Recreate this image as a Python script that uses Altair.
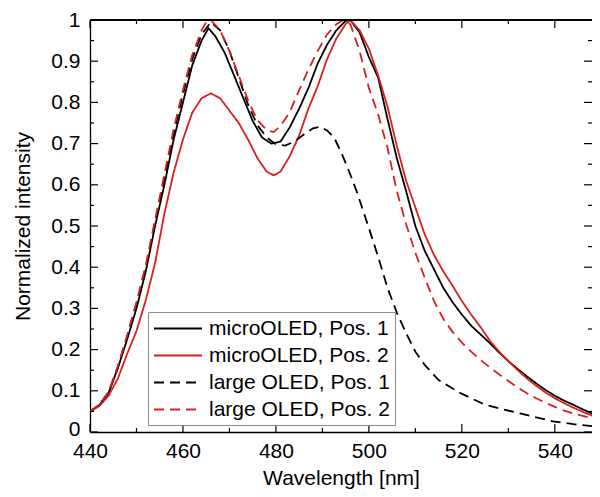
import altair as alt
import pandas as pd

# ---- data ----
series_names = ["microOLED, Pos. 1", "microOLED, Pos. 2", "large OLED, Pos. 1", "large OLED, Pos. 2"]

wl_micro1 = [440, 442, 444, 446, 448, 450, 452, 454, 456, 458, 460, 462, 464, 465.5, 467, 469, 471, 473,
             475, 477, 479, 481, 483, 485, 487, 489, 491, 493, 495, 496, 498, 500, 502, 504, 506, 508,
             510, 512, 514, 516, 518, 520, 522, 524, 526, 528, 530, 532, 534, 536, 538, 540, 542, 544,
             546, 548, 549.7]
val_micro1 = [0.05, 0.065, 0.095, 0.155, 0.225, 0.30, 0.39, 0.50, 0.60, 0.71, 0.80, 0.89, 0.95, 0.98,
              0.96, 0.92, 0.865, 0.81, 0.755, 0.715, 0.70, 0.705, 0.74, 0.785, 0.835, 0.895, 0.94, 0.975,
              0.998, 1.0, 0.97, 0.91, 0.86, 0.76, 0.665, 0.585, 0.50, 0.44, 0.395, 0.35, 0.315, 0.285,
              0.258, 0.237, 0.216, 0.193, 0.172, 0.153, 0.135, 0.118, 0.102, 0.088, 0.076, 0.066, 0.055,
              0.045, 0.038]

wl_micro2 = [440, 442, 444, 446, 448, 450, 452, 454, 456, 458, 460, 462, 464, 466, 468, 470, 472, 474,
             476, 478, 479.5, 481, 483, 485, 487, 489, 491, 493, 495, 496, 498, 500, 502, 504, 506, 508,
             510, 512, 514, 516, 518, 520, 522, 524, 526, 528, 530, 532, 534, 536, 538, 540, 542, 544,
             546, 548, 549.7]
val_micro2 = [0.05, 0.063, 0.088, 0.13, 0.19, 0.245, 0.32, 0.41, 0.53, 0.63, 0.71, 0.775, 0.81, 0.822,
              0.81, 0.78, 0.75, 0.71, 0.665, 0.632, 0.623, 0.632, 0.67, 0.72, 0.785, 0.84, 0.905, 0.955,
              0.99, 1.0, 0.975, 0.93, 0.865, 0.79, 0.695, 0.61, 0.545, 0.48, 0.43, 0.39, 0.355, 0.318,
              0.285, 0.255, 0.222, 0.195, 0.172, 0.15, 0.13, 0.112, 0.096, 0.082, 0.07, 0.059, 0.049,
              0.04, 0.033]

wl_large1 = [440, 442, 444, 446, 448, 450, 452, 454, 456, 458, 460, 462, 464, 466, 468, 470, 472, 474,
             476, 478, 480, 482, 484, 486, 488, 489.5, 491, 492.5, 494, 496, 497.5, 500, 502, 504, 506,
             508, 510, 512, 515, 519.6, 525, 532.5, 539.6, 544, 549.7]
val_large1 = [0.05, 0.066, 0.096, 0.158, 0.232, 0.312, 0.40, 0.51, 0.615, 0.725, 0.82, 0.905, 0.965,
              0.995, 0.975, 0.925, 0.86, 0.795, 0.745, 0.715, 0.698, 0.695, 0.705, 0.722, 0.737, 0.741,
              0.732, 0.715, 0.68, 0.625, 0.58, 0.495, 0.425, 0.35, 0.29, 0.24, 0.195, 0.163, 0.126,
              0.095, 0.066, 0.045, 0.026, 0.019, 0.012]

wl_large2 = [440, 442, 444, 446, 448, 450, 452, 454, 456, 458, 460, 462, 464, 465, 466, 468, 470, 472,
             474, 476, 478, 479.5, 481, 483, 485, 487, 489, 491, 493, 494.5, 496, 498, 500, 502, 504,
             506, 508, 510, 512, 514, 516, 518, 520, 522, 524, 526, 528, 530, 532, 534, 536, 538, 540,
             542, 544, 546, 548, 549.7]
val_large2 = [0.05, 0.066, 0.097, 0.16, 0.235, 0.315, 0.405, 0.515, 0.625, 0.735, 0.83, 0.915, 0.975,
              0.995, 1.0, 0.975, 0.925, 0.865, 0.805, 0.757, 0.733, 0.728, 0.743, 0.777, 0.83, 0.88,
              0.925, 0.965, 0.99, 1.0, 0.99, 0.925, 0.835, 0.77, 0.69, 0.585, 0.505, 0.435, 0.375,
              0.318, 0.275, 0.243, 0.217, 0.195, 0.175, 0.157, 0.14, 0.124, 0.108, 0.094, 0.082, 0.071,
              0.061, 0.052, 0.045, 0.039, 0.034, 0.03]

x_major_ticks = [440, 460, 480, 500, 520, 540]
x_minor_ticks = [450, 470, 490, 510, 530]
y_major_ticks = [0, 0.1, 0.2, 0.3, 0.4, 0.5, 0.6, 0.7, 0.8, 0.9, 1]
y_minor_ticks = [0.05, 0.15, 0.25, 0.35, 0.45, 0.55, 0.65, 0.75, 0.85, 0.95]

line_colors = ["#000000", "#d81f1f", "#000000", "#d81f1f"]
line_dashes = [[1, 0], [1, 0], [10, 6], [10, 6]]

# ---- build table ----
rows = []
for name, wls, vals in zip(series_names,
                           [wl_micro1, wl_micro2, wl_large1, wl_large2],
                           [val_micro1, val_micro2, val_large1, val_large2]):
    for i, (w, v) in enumerate(zip(wls, vals)):
        rows.append({"series": name, "wl": w, "val": v, "idx": i})
df = pd.DataFrame(rows)

W, H = 502, 412
FONT = "Liberation Sans"
FS = 21
xscale = alt.Scale(domain=[440, 548], nice=False, zero=False)
yscale = alt.Scale(domain=[0, 1], nice=False, zero=False)

x_axis = alt.Axis(values=x_major_ticks, title="Wavelength [nm]", ticks=False, grid=False,
                  labelPadding=8, titlePadding=6, labelFlush=False)
y_axis = alt.Axis(values=y_major_ticks, title="Normalized intensity", ticks=False, grid=False,
                  labelPadding=10, titlePadding=17, labelFlush=False,
                  labelOffset={"condition": {"test": "datum.value == 0", "value": -3}, "value": 0},
                  labelExpr="datum.value == 0 ? '0' : (datum.value == 1 ? '1' : format(datum.value, '.1f'))")

lines = alt.Chart(df).mark_line(strokeWidth=1.8, clip=True).encode(
    x=alt.X("wl:Q", scale=xscale, axis=x_axis),
    y=alt.Y("val:Q", scale=yscale, axis=y_axis),
    color=alt.Color("series:N", scale=alt.Scale(domain=series_names, range=line_colors), title=None),
    strokeDash=alt.StrokeDash("series:N", scale=alt.Scale(domain=series_names, range=line_dashes), title=None),
    order=alt.Order("idx:Q"),
)

xmaj = pd.DataFrame({"wl": x_major_ticks})
xmin = pd.DataFrame({"wl": x_minor_ticks})
ymaj = pd.DataFrame({"val": y_major_ticks})
ymin = pd.DataFrame({"val": y_minor_ticks})

def xt(data, y1, y2):
    return alt.Chart(data).mark_rule(color="black", strokeWidth=1.2).encode(
        x=alt.X("wl:Q", scale=xscale, axis=x_axis), y=alt.value(y1), y2=alt.value(y2))

def yt(data, x1, x2):
    return alt.Chart(data).mark_rule(color="black", strokeWidth=1.2).encode(
        y=alt.Y("val:Q", scale=yscale, axis=y_axis), x=alt.value(x1), x2=alt.value(x2))

top_frame = alt.Chart(xmaj).mark_rule(color="black", strokeWidth=1.3).encode(
    x=alt.value(0), x2=alt.value(W), y=alt.value(0))

# legend symbol: a 48px line starting at the legend's left padding (unit = 10.5px)
legend_symbol = "M-1,0H3.571"

chart = alt.layer(
    lines,
    xt(xmaj, H, H - 8), xt(xmin, H, H - 4),
    xt(xmaj, 0, 8), xt(xmin, 0, 4),
    yt(ymaj, 0, 8), yt(ymin, 0, 4),
    yt(ymaj, W, W - 8), yt(ymin, W, W - 4),
    top_frame,
).properties(
    width=W, height=H,
    padding={"left": 82, "top": 12, "right": 0, "bottom": 57},
    autosize=alt.AutoSizeParams(type="none"),
).configure_view(stroke=None).configure_axis(
    labelFont=FONT, titleFont=FONT, labelFontSize=FS, titleFontSize=FS,
    labelColor="black", titleColor="black", titleFontWeight="normal",
    domainColor="black", domainWidth=1.3,
).configure_legend(
    orient="none", legendX=58, legendY=292,
    symbolType=legend_symbol, symbolSize=441, symbolStrokeWidth=2,
    labelFont=FONT, labelFontSize=FS, labelColor="black", labelLimit=400,
    labelOffset=33, padding=5, rowPadding=5,
    strokeColor="#8c8c8c", fillColor="white", cornerRadius=0,
)

chart.save("out.html", embed_options={"renderer": "svg", "actions": False})
